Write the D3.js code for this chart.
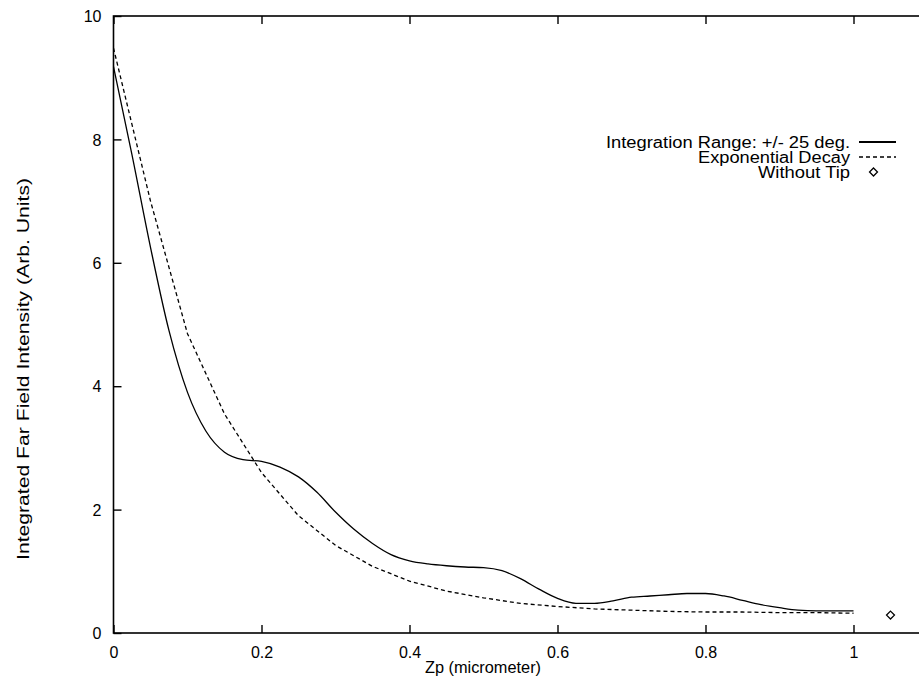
<!DOCTYPE html>
<html>
<head>
<meta charset="utf-8">
<script src="https://cdn.jsdelivr.net/npm/d3@7/dist/d3.min.js"></script>
<style>
  html, body { margin: 0; padding: 0; background: #fff; }
  svg { display: block; }
  text { font-family: "Liberation Sans", Arial, Helvetica, sans-serif; fill: #000; }
</style>
</head>
<body>
<svg id="chart" width="919" height="682"></svg>
<script>
// Integrated far-field intensity vs tip position Zp
const zpSolid = [0, 0.025, 0.05, 0.075, 0.1, 0.125, 0.15, 0.175, 0.2, 0.225, 0.25, 0.275,
  0.3, 0.325, 0.35, 0.375, 0.4, 0.425, 0.45, 0.475, 0.5, 0.525, 0.55, 0.575, 0.6, 0.625,
  0.65, 0.675, 0.7, 0.725, 0.75, 0.775, 0.8, 0.825, 0.85, 0.875, 0.9, 0.925, 0.95, 0.975, 1.0];
const intensityRange25 = [9.18, 7.75, 6.25, 4.9, 3.9, 3.27, 2.93, 2.81, 2.78, 2.69, 2.53, 2.28,
  1.96, 1.68, 1.45, 1.27, 1.17, 1.12, 1.09, 1.07, 1.06, 1.01, 0.88, 0.71, 0.56, 0.48,
  0.48, 0.52, 0.58, 0.60, 0.62, 0.64, 0.64, 0.60, 0.53, 0.46, 0.41, 0.37, 0.36, 0.36, 0.36];

const zpDecay = [0, 0.05, 0.1, 0.15, 0.2, 0.25, 0.3, 0.35, 0.4, 0.45, 0.5, 0.55, 0.6, 0.65,
  0.7, 0.75, 0.8, 0.85, 0.9, 0.95, 1.0];
const intensityDecay = [9.48, 7.0, 4.85, 3.55, 2.6, 1.9, 1.42, 1.08, 0.84, 0.68, 0.57, 0.48,
  0.43, 0.39, 0.37, 0.35, 0.34, 0.34, 0.33, 0.33, 0.32];

const zpNoTip = [1.05];
const intensityNoTip = [0.29];

const xTicks = [0, 0.2, 0.4, 0.6, 0.8, 1];
const yTicks = [0, 2, 4, 6, 8, 10];

const legendLabels = ["Integration Range: +/- 25 deg.", "Exponential Decay", "Without Tip"];

const svg = d3.select("#chart");
const plotLeft = 113.5, plotRight = 927.5, plotTop = 16, plotBottom = 633;

const x = d3.scaleLinear().domain([0, 1.1]).range([plotLeft, plotRight]);
const y = d3.scaleLinear().domain([0, 10]).range([plotBottom, plotTop]);

const tickLen = 8;
const fmtX = d => d === 0 ? "0" : d === 1 ? "1" : d3.format(".1f")(d);

// inward ticks on all four sides
const axB = svg.append("g").attr("transform", `translate(0,${plotBottom})`)
  .call(d3.axisBottom(x).tickValues(xTicks).tickSize(-tickLen).tickPadding(14).tickFormat(fmtX));
const axT = svg.append("g").attr("transform", `translate(0,${plotTop})`)
  .call(d3.axisTop(x).tickValues(xTicks).tickSize(-tickLen).tickFormat(""));
const axL = svg.append("g").attr("transform", `translate(${plotLeft},0)`)
  .call(d3.axisLeft(y).tickValues(yTicks).tickSize(-tickLen).tickPadding(12));
const axR = svg.append("g").attr("transform", `translate(${plotRight},0)`)
  .call(d3.axisRight(y).tickValues(yTicks).tickSize(-tickLen).tickFormat(""));

[axB, axT, axL, axR].forEach(g => {
  g.select(".domain").remove();
  g.selectAll(".tick line").attr("stroke", "#000").attr("stroke-width", 1.4);
  g.selectAll(".tick text").style("font-size", "16px")
    .style("font-family", "'Liberation Sans', Arial, sans-serif").attr("fill", "#000");
});
axL.selectAll(".tick text").attr("dy", "0.36em");
axB.selectAll(".tick text").attr("dy", "0.68em");

// frame
svg.append("rect").attr("x", plotLeft).attr("y", plotTop)
  .attr("width", plotRight - plotLeft).attr("height", plotBottom - plotTop)
  .attr("fill", "none").attr("stroke", "#000").attr("stroke-width", 1.6);

// axis titles
svg.append("text").attr("x", 483).attr("y", 673).attr("text-anchor", "middle")
  .style("font-size", "16px").attr("textLength", 116).attr("lengthAdjust", "spacingAndGlyphs")
  .text("Zp (micrometer)");
svg.append("text").attr("transform", "translate(29,369) rotate(-90)")
  .attr("text-anchor", "middle").style("font-size", "17px")
  .attr("textLength", 382).attr("lengthAdjust", "spacingAndGlyphs")
  .text("Integrated Far Field Intensity (Arb. Units)");

// curves
const solidPts = zpSolid.map((z, i) => [z, intensityRange25[i]]);
const decayPts = zpDecay.map((z, i) => [z, intensityDecay[i]]);

svg.append("path")
  .attr("d", d3.line().x(d => x(d[0])).y(d => y(d[1])).curve(d3.curveMonotoneX)(solidPts))
  .attr("fill", "none").attr("stroke", "#000").attr("stroke-width", 1.3);

svg.append("path")
  .attr("d", d3.line().x(d => x(d[0])).y(d => y(d[1]))(decayPts))
  .attr("fill", "none").attr("stroke", "#000").attr("stroke-width", 1.3)
  .attr("stroke-dasharray", "4,3");

const diamond = d3.symbol().type(d3.symbolDiamond2).size(40);
svg.selectAll(".notip").data(zpNoTip.map((z, i) => [z, intensityNoTip[i]]))
  .join("path").attr("class", "notip")
  .attr("transform", d => `translate(${x(d[0])},${y(d[1])})`)
  .attr("d", diamond).attr("fill", "none").attr("stroke", "#000").attr("stroke-width", 1.3);

// legend
const legX = 850, sampleX0 = 859, sampleX1 = 896, rowY = [142, 157, 172];
const legWidths = [244, 152, 92];
const leg = svg.append("g");
legendLabels.forEach((t, i) => {
  leg.append("text").attr("x", legX).attr("y", rowY[i]).attr("dy", "0.36em")
    .attr("text-anchor", "end").style("font-size", "16px")
    .attr("textLength", legWidths[i]).attr("lengthAdjust", "spacingAndGlyphs").text(t);
});
leg.append("line").attr("x1", sampleX0).attr("x2", sampleX1).attr("y1", rowY[0]).attr("y2", rowY[0])
  .attr("stroke", "#000").attr("stroke-width", 2);
leg.append("line").attr("x1", sampleX0).attr("x2", sampleX1).attr("y1", rowY[1]).attr("y2", rowY[1])
  .attr("stroke", "#000").attr("stroke-width", 1.5).attr("stroke-dasharray", "4,3");
leg.append("path").attr("transform", `translate(${(sampleX0 + sampleX1) / 2 - 4},${rowY[2]})`)
  .attr("d", diamond).attr("fill", "none").attr("stroke", "#000").attr("stroke-width", 1.3);
</script>
</body>
</html>
